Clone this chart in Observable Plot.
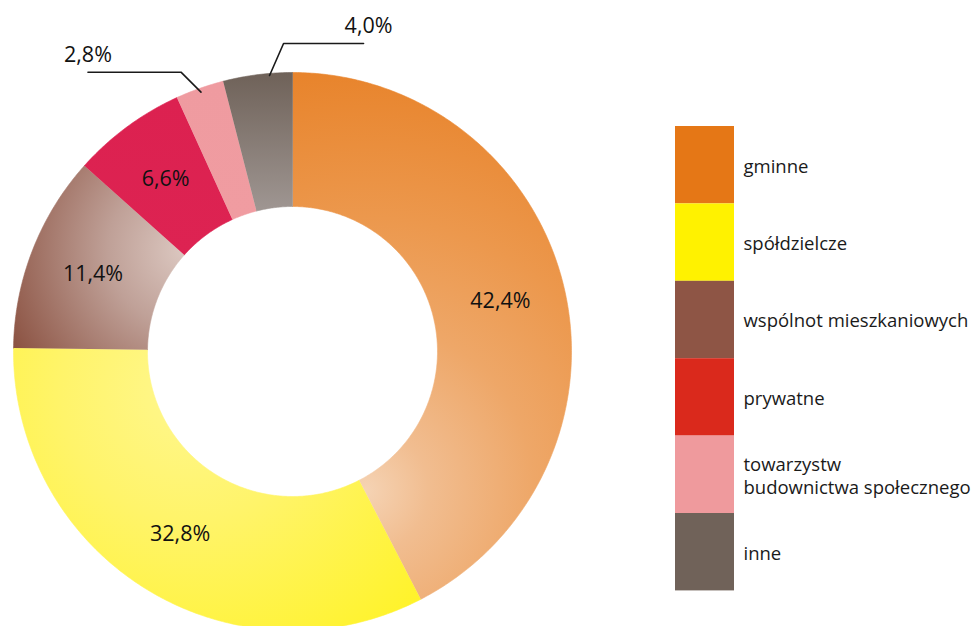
<!DOCTYPE html>
<html><head><meta charset="utf-8">
<script src="https://cdn.jsdelivr.net/npm/d3@7"></script>
<script src="https://cdn.jsdelivr.net/npm/@observablehq/plot@0.6"></script>
<style>body{margin:0;background:#fff;} #chart svg{display:block;}</style>
</head><body><div id="chart"></div>
<script>
// ---- data ----
const categories = ["gminne", "spółdzielcze", "wspólnot mieszkaniowych", "prywatne", "towarzystw budownictwa społecznego", "inne"];
const legendLabels = ["gminne", "spółdzielcze", "wspólnot mieszkaniowych", "prywatne", "towarzystw\nbudownictwa społecznego", "inne"];
const shares = [42.4, 32.8, 11.4, 6.6, 2.8, 4.0];
const valueLabels = ["42,4%", "32,8%", "11,4%", "6,6%", "2,8%", "4,0%"];
const legendColors = ["#E57716", "#FFF200", "#8E5545", "#DA291C", "#EF9A9D", "#706259"];
const outsideLabels = [4, 5]; // slices labelled with a leader line

// ---- layout ----
const W = 976, H = 626;
const cx = 292, cy = 351, R = 279, r0 = 145, rLabel = 214;
const callout = {
  4: {t: 0.5, rad: 275, ex: -20, ey: -20, len: -93, tx: 0, anchor: "start"},
  5: {t: 0.67, rad: 277, ex: 14, ey: -32, len: 80, tx: 5, anchor: "end"}
};
const legend = {x1: 675, x2: 734, top: 126, h: 77.4, tx: 743};

const total = d3.sum(shares);
let acc = 0;
const slices = shares.map((v, i) => {
  const a0 = acc / total * 2 * Math.PI; acc += v;
  const a1 = acc / total * 2 * Math.PI;
  return {i, key: categories[i], v, a0, a1, label: valueLabels[i]};
});
const pt = (a, rad) => ({x: cx + rad * Math.sin(a), y: cy - rad * Math.cos(a)});

const ring = slices.flatMap(s => {
  const n = Math.max(4, Math.ceil((s.a1 - s.a0) / (Math.PI / 360)));
  const pts = [];
  for (let k = 0; k <= n; k++) pts.push(pt(s.a0 + (s.a1 - s.a0) * k / n, R));
  for (let k = n; k >= 0; k--) pts.push(pt(s.a0 + (s.a1 - s.a0) * k / n, r0));
  return pts.map(p => ({...p, key: s.key, paint: `url(#g${s.i})`}));
});

const inside = slices.filter(s => !outsideLabels.includes(s.i)).map(s => ({...pt((s.a0 + s.a1) / 2, rLabel), label: s.label}));

const leaderPts = [], leaderText = [];
outsideLabels.forEach(i => {
  const s = slices[i], c = callout[i];
  const a = pt(s.a0 + (s.a1 - s.a0) * c.t, c.rad);
  const e = {x: a.x + c.ex, y: a.y + c.ey};
  const f = {x: e.x + c.len, y: e.y};
  [a, e, f].forEach(p => leaderPts.push({...p, key: s.key}));
  leaderText.push({x: f.x + c.tx, y: f.y - 17.5, label: s.label, anchor: c.anchor});
});

const legendData = categories.map((k, i) => ({
  i, key: k, label: legendLabels[i], color: legendColors[i],
  y1: legend.top + i * legend.h, y2: legend.top + (i + 1) * legend.h
}));

const chart = Plot.plot({
  width: W, height: H, margin: 0,
  x: {domain: [0, W], range: [0, W], axis: null},
  y: {domain: [0, H], range: [0, H], axis: null},
  color: {type: "identity"},
  style: {fontFamily: "'Open Sans', sans-serif", background: "#fff", color: "#111"},
  marks: [
    Plot.line(ring, {x: "x", y: "y", z: "key", fill: "paint", stroke: "paint", strokeWidth: 0.6, curve: "linear"}),
    Plot.text(inside, {x: "x", y: "y", text: "label", fontSize: 21.5, fill: "#111"}),
    Plot.line(leaderPts, {x: "x", y: "y", z: "key", stroke: "#1a1a1a", strokeWidth: 1.6}),
    Plot.text(leaderText, {x: "x", y: "y", text: "label", textAnchor: d => d.anchor, fontSize: 21.5, fill: "#111"}),
    Plot.rect(legendData, {x1: () => legend.x1, x2: () => legend.x2, y1: "y1", y2: "y2", fill: "color"}),
    Plot.text(legendData, {x: () => legend.tx, y: d => (d.y1 + d.y2) / 2, text: "label", textAnchor: "start", fontSize: 18.5, lineHeight: 1.24, fill: "#1a1a1a"})
  ]
});

// gradients for the slices
const gradients = [
  {type: "radial", cx: 365, cy: 490, r: 420, stops: [[0, "#F5D3B4"], [0.15, "#F1BD90"], [0.4, "#EEA768"], [0.65, "#EC984D"], [1, "#E8842C"]]},
  {type: "radial", cx: 190, cy: 390, r: 430, stops: [[0, "#FFF78F"], [0.3, "#FFF46A"], [1, "#FFF200"]]},
  {type: "radial", cx: 185, cy: 250, r: 195, stops: [[0, "#DCC8C1"], [0.4, "#BFA097"], [1, "#8C5343"]]},
  {type: "linear", x1: 0, y1: 0, x2: 0, y2: 1, units: "objectBoundingBox", stops: [[0, "#DC2150"], [1, "#DD2352"]]},
  {type: "linear", x1: 0, y1: 0, x2: 0, y2: 1, units: "objectBoundingBox", stops: [[0, "#EF9BA0"], [1, "#F09CA1"]]},
  {type: "linear", x1: 0, y1: 73, x2: 0, y2: 207, stops: [[0, "#6F6259"], [1, "#9E9591"]]}
];
const defs = d3.select(chart).insert("defs", ":first-child");
gradients.forEach((g, i) => {
  const el = defs.append(g.type === "radial" ? "radialGradient" : "linearGradient").attr("id", "g" + i)
    .attr("gradientUnits", g.units || "userSpaceOnUse");
  if (g.type === "radial") el.attr("cx", g.cx).attr("cy", g.cy).attr("r", g.r);
  else el.attr("x1", g.x1).attr("y1", g.y1).attr("x2", g.x2).attr("y2", g.y2);
  g.stops.forEach(([o, c]) => el.append("stop").attr("offset", o).attr("stop-color", c));
});

document.getElementById("chart").appendChild(chart);
</script>
</body></html>
